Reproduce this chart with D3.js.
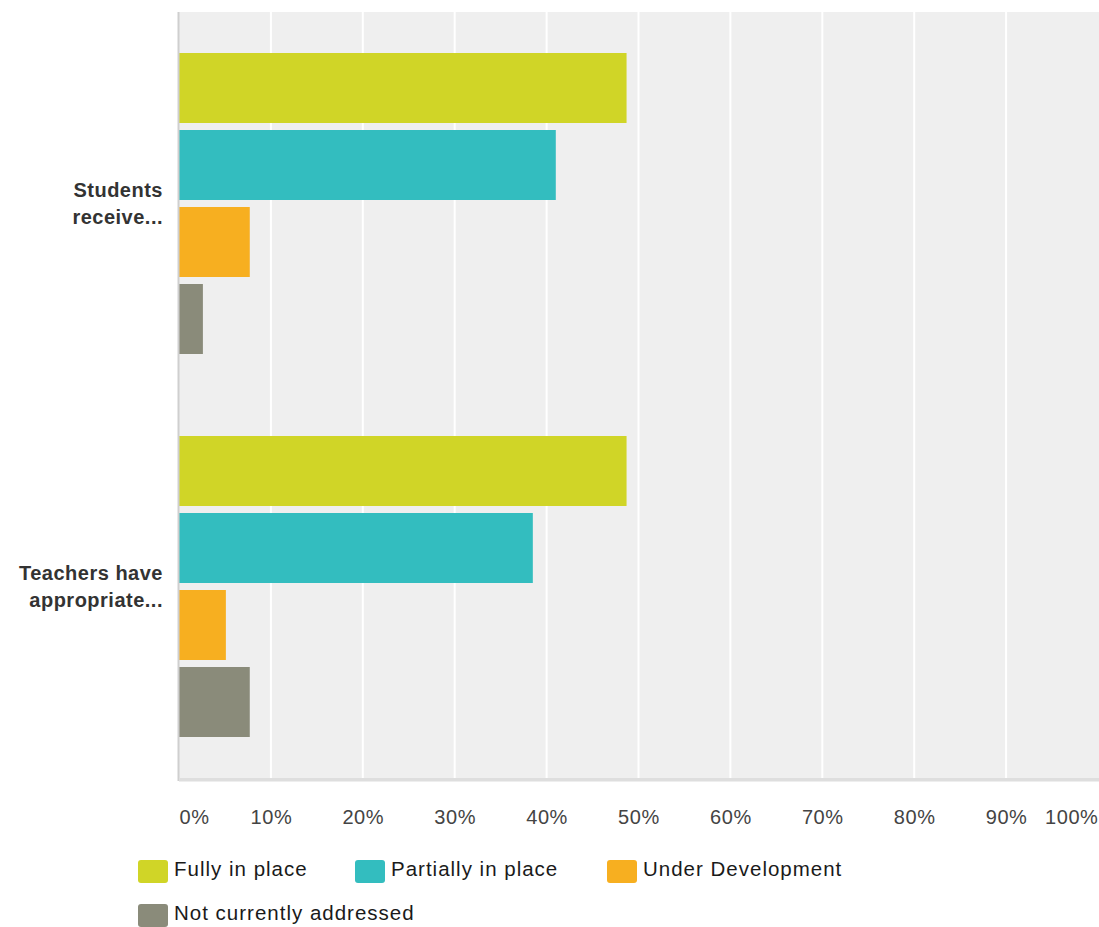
<!DOCTYPE html>
<html>
<head>
<meta charset="utf-8">
<script src="https://cdn.jsdelivr.net/npm/d3@7"></script>
<style>
  html, body { margin: 0; padding: 0; background: #ffffff; }
  svg { display: block; font-family: "Liberation Sans", Arial, sans-serif; }
</style>
</head>
<body>
<svg id="chart" width="1099" height="927"></svg>
<script>
// Question rows (truncated labels as shown), each split into two lines
const categories = ["Students receive...", "Teachers have appropriate..."];
const categoryLines = [["Students", "receive..."], ["Teachers have", "appropriate..."]];

// Response options
const seriesNames = ["Fully in place", "Partially in place", "Under Development", "Not currently addressed"];
const seriesColors = ["#d0d527", "#33bdbf", "#f7af20", "#8a8b7a"];

// Percent of respondents per option, one array per question row
const studentsValues = [48.7, 41.0, 7.7, 2.6];
const teachersValues = [48.7, 38.5, 5.1, 7.7];

const tickValues = [0, 10, 20, 30, 40, 50, 60, 70, 80, 90, 100];
const tickLabels = ["0%", "10%", "20%", "30%", "40%", "50%", "60%", "70%", "80%", "90%", "100%"];

const rows = [studentsValues, teachersValues];

const svg = d3.select("#chart");
const plot = { left: 179, right: 1098, top: 12, bottom: 778 };

const x = d3.scaleLinear().domain([0, 100]).range([plot.left, plot.right]);
const y = d3.scaleBand().domain(categories).range([plot.top, plot.bottom]).padding(0);

// Inner band for the four options inside each question row
const innerSpan = 301;
const yInner = d3.scaleBand().domain(seriesNames).range([0, innerSpan]).paddingInner(0.091);
const innerOffset = (y.bandwidth() - innerSpan) / 2;

// Plot background
svg.append("rect")
  .attr("x", plot.left).attr("y", plot.top)
  .attr("width", 1099 - plot.left).attr("height", plot.bottom - plot.top)
  .attr("fill", "#efefef");

// Vertical gridlines
svg.append("g")
  .selectAll("line")
  .data(tickValues.filter(d => d > 0 && d < 100))
  .join("line")
  .attr("x1", d => x(d)).attr("x2", d => x(d))
  .attr("y1", plot.top).attr("y2", plot.bottom)
  .attr("stroke", "#ffffff").attr("stroke-width", 2);

// Bars
const groups = svg.append("g")
  .selectAll("g")
  .data(rows)
  .join("g")
  .attr("transform", (d, i) => `translate(0,${y(categories[i]) + innerOffset})`);

groups.selectAll("rect")
  .data(d => d.map((v, j) => ({ v, name: seriesNames[j], color: seriesColors[j] })))
  .join("rect")
  .attr("x", x(0))
  .attr("y", d => yInner(d.name))
  .attr("width", d => x(d.v) - x(0))
  .attr("height", yInner.bandwidth())
  .attr("fill", d => d.color);

// Axis lines
svg.append("line")
  .attr("x1", plot.left - 0.5).attr("x2", plot.left - 0.5)
  .attr("y1", plot.top).attr("y2", plot.bottom + 3)
  .attr("stroke", "#cfcfcf").attr("stroke-width", 2);
svg.append("rect")
  .attr("x", plot.left).attr("y", plot.bottom)
  .attr("width", 1099 - plot.left).attr("height", 3.5)
  .attr("fill", "#dedede");

// Category labels
const catLabels = svg.append("g")
  .selectAll("text")
  .data(categories)
  .join("text")
  .attr("text-anchor", "end")
  .attr("font-weight", "bold")
  .attr("font-size", 20)
  .attr("letter-spacing", 0.5)
  .attr("fill", "#333333")
  .attr("transform", d => `translate(163,${y(d) + y.bandwidth() / 2})`);

catLabels.selectAll("tspan")
  .data((d, i) => categoryLines[i].map((t, k, arr) => ({ t, k, n: arr.length })))
  .join("tspan")
  .attr("x", 0)
  .attr("y", d => (d.k - (d.n - 1) / 2) * 27)
  .attr("dy", "0.35em")
  .text(d => d.t);

// X axis tick labels
const xAxis = d3.axisBottom(x)
  .tickValues(tickValues)
  .tickSize(0)
  .tickFormat((d, i) => tickLabels[i]);

const axisG = svg.append("g")
  .attr("transform", `translate(0,${plot.bottom})`)
  .call(xAxis);
axisG.select(".domain").remove();
axisG.selectAll("text")
  .attr("font-family", "Liberation Sans, Arial, sans-serif")
  .attr("font-size", 20)
  .attr("letter-spacing", 0.6)
  .attr("fill", "#444444")
  .attr("y", 38.5)
  .attr("dy", "0.35em")
  .attr("text-anchor", (d, i) => i === 0 ? "start" : (i === tickValues.length - 1 ? "end" : "middle"));

// Legend
const legendItems = [
  { x: 138, y: 860 }, { x: 355, y: 860 }, { x: 607, y: 860 }, { x: 138, y: 904 }
];
const legend = svg.append("g")
  .selectAll("g")
  .data(seriesNames)
  .join("g")
  .attr("transform", (d, i) => `translate(${legendItems[i].x},${legendItems[i].y})`);

legend.append("rect")
  .attr("width", 30).attr("height", 23)
  .attr("rx", 3).attr("ry", 3)
  .attr("fill", (d, i) => seriesColors[i]);

legend.append("text")
  .attr("x", 36).attr("y", 9)
  .attr("dy", "0.35em")
  .attr("font-size", 20.5)
  .attr("letter-spacing", 1)
  .attr("fill", "#1a1a1a")
  .text(d => d);
</script>
</body>
</html>
